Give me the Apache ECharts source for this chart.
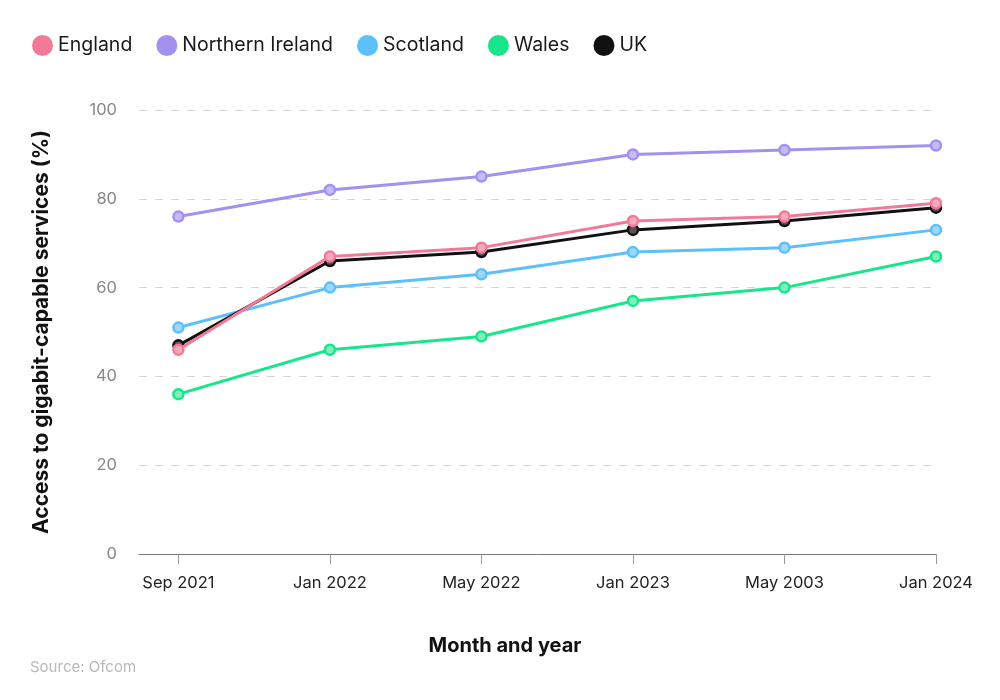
<!DOCTYPE html>
<html><head><meta charset="utf-8">
<script src="https://cdn.jsdelivr.net/npm/echarts@6/dist/echarts.min.js"></script>
<style>html,body{margin:0;padding:0;background:#fff}#c{width:1000px;height:700px}</style>
</head><body><div id="c"></div>
<script>
var categories = ['Sep 2021','Jan 2022','May 2022','Jan 2023','May 2003','Jan 2024'];
var england = [46,67,69,75,76,79];
var northernIreland = [76,82,85,90,91,92];
var scotland = [51,60,63,68,69,73];
var wales = [36,46,49,57,60,67];
var uk = [47,66,68,73,75,78];
var yTicks = [0,20,40,60,80,100];
var seriesNames = ['England','Northern Ireland','Scotland','Wales','UK'];
var lineColors = ['#f27a98','#a391f0','#5cc1fa','#17e68b','#111111'];
var fillColors = ['#f7a9bc','#c6bbf6','#9bd8fb','#7df0bb','#555555'];

var font = 'Inter, "Liberation Sans", Arial, sans-serif';
function pts(arr){ return arr.map(function(v,i){ return [i, v]; }); }
function ser(idx, data, z){
  return {name:seriesNames[idx], type:'line', data:pts(data), z:z||2,
    symbol:'circle', symbolSize:10,
    lineStyle:{color:lineColors[idx], width:3},
    itemStyle:{color:fillColors[idx], borderColor:lineColors[idx], borderWidth:2.5},
    emphasis:{disabled:true}};
}
var chart = echarts.init(document.getElementById('c'));
chart.setOption({
  animation:false,
  textStyle:{fontFamily:font},
  color:lineColors,
  legend:{left:27, top:30, icon:'circle', itemWidth:21, itemHeight:21, itemGap:24,
    textStyle:{fontSize:19.5, color:'#1a1a1a', fontFamily:font},
    data:seriesNames.map(function(n,i){
      return {name:n, itemStyle:{color:lineColors[i], borderWidth:0}};
    })},
  title:[
    {text:'Month and year', left:500, top:631, textAlign:'center',
     textStyle:{fontSize:20, fontWeight:'bold', color:'#111', fontFamily:font}},
    {text:'Source: Ofcom', left:25, top:655,
     textStyle:{fontSize:15, fontWeight:'normal', color:'#b8b8b8', fontFamily:font}}
  ],
  grid:{left:139, right:64, top:110, bottom:146},
  xAxis:{type:'value', min:-0.26, max:5,
    axisLine:{show:true, onZero:false, lineStyle:{color:'#777', width:1}},
    axisTick:{show:true, length:10, customValues:[0,1,2,3,4,5], lineStyle:{color:'#999'}},
    axisLabel:{customValues:[0,1,2,3,4,5], margin:21, fontSize:16.5, color:'#222',
      formatter:function(v){ return categories[Math.round(v)] || ''; }},
    splitLine:{show:false}},
  yAxis:{type:'value', min:0, max:100, interval:20,
    name:'Access to gigabit-capable services (%)', nameLocation:'middle', nameGap:87,
    nameTextStyle:{fontSize:21, fontWeight:'bold', color:'#111', fontFamily:font},
    axisLine:{show:false}, axisTick:{show:false},
    axisLabel:{fontSize:16.5, color:'#888', margin:22,
      formatter:function(v){ return yTicks.indexOf(v)>=0 ? String(v) : ''; }},
    splitLine:{lineStyle:{color:'#d6d6d6', type:[8,8], width:1}}},
  series:[
    ser(0, england, 4),
    ser(1, northernIreland, 2),
    ser(2, scotland, 2),
    ser(3, wales, 2),
    ser(4, uk, 3)
  ]
});
</script></body></html>
